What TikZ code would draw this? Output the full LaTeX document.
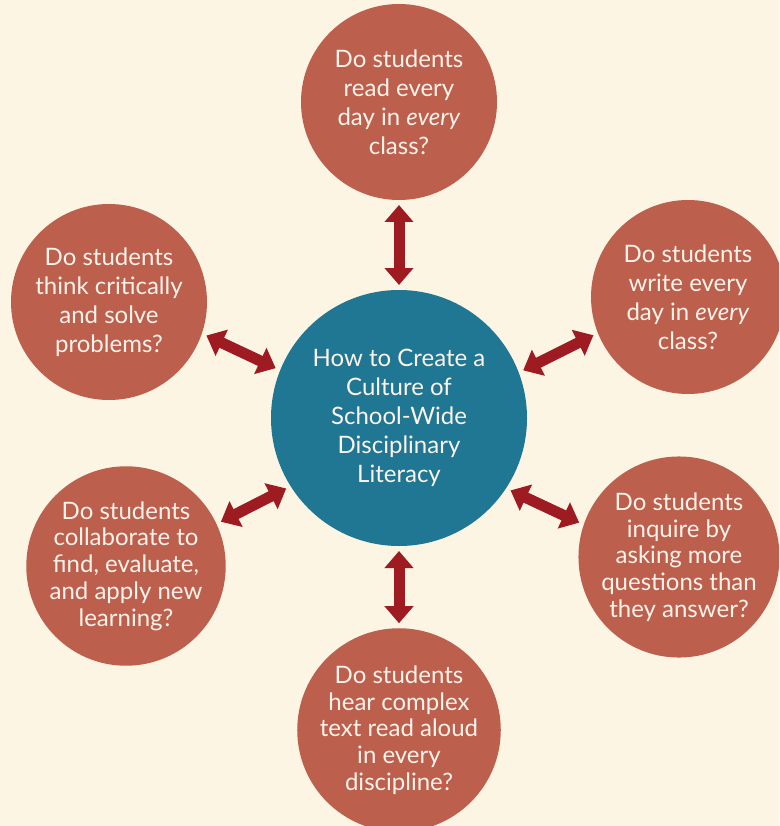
\documentclass[tikz,border=0pt]{standalone}
\usepackage{fontspec}
\setmainfont{Lato}
\usetikzlibrary{arrows.meta}
\definecolor{bg}{HTML}{FDF5E4}
\definecolor{qred}{HTML}{BC5F4D}
\definecolor{hub}{HTML}{1F7794}
\definecolor{arr}{HTML}{9E1B22}
\definecolor{txt}{HTML}{FDF3EA}
\begin{document}
\begin{tikzpicture}[x=1pt,y=-1pt,
  q/.style={circle, fill=qred, minimum size=196pt, inner sep=0pt, outer sep=5pt,
    text=txt, align=center, font=\fontsize{24}{29}\selectfont},
  qs/.style={q, font=\fontsize{24}{26.7}\selectfont},
  hubc/.style={q, fill=hub, minimum size=256pt},
  link/.style={arr, line width=11pt,
    {Triangle[width=28pt,length=17pt]}-{Triangle[width=28pt,length=17pt]}}]
\fill[bg] (0,0) rectangle (779,826);
\useasboundingbox (0,0) rectangle (779,826);
\begin{scope}
\clip (0,0) rectangle (779,826);
\node[hubc] (c) at (399,418) {How to Create a\\Culture of\\School-Wide\\Disciplinary\\Literacy};
\node[q] (t) at (399,102) {Do students\\read every\\day in \textit{every}\\class?};
\node[q, minimum size=194pt] (rt) at (688,297) {Do students\\write every\\day in \textit{every}\\class?};
\node[q] (lt) at (109,302) {Do students\\think critically\\and solve\\problems?};
\node[qs] (lb) at (126,566) {Do students\\collaborate to\\find, evaluate,\\and apply new\\learning?};
\node[qs] (rb) at (679,557) {Do students\\inquire by\\asking more\\questions than\\they answer?};
\node[qs] (b) at (399,730) {Do students\\hear complex\\text read aloud\\in every\\discipline?};
\end{scope}
\draw[link] (t.-90) -- (c.90);
\draw[link] (c.-90) -- (b.90);
\draw[link] (lt.-19.5) -- (c.158.8);
\draw[link] (c.21.2) -- (rt.-158);
\draw[link] (lb.25.1) -- (c.212.8);
\draw[link] (c.-33.3) -- (rb.161.6);
\end{tikzpicture}
\end{document}
